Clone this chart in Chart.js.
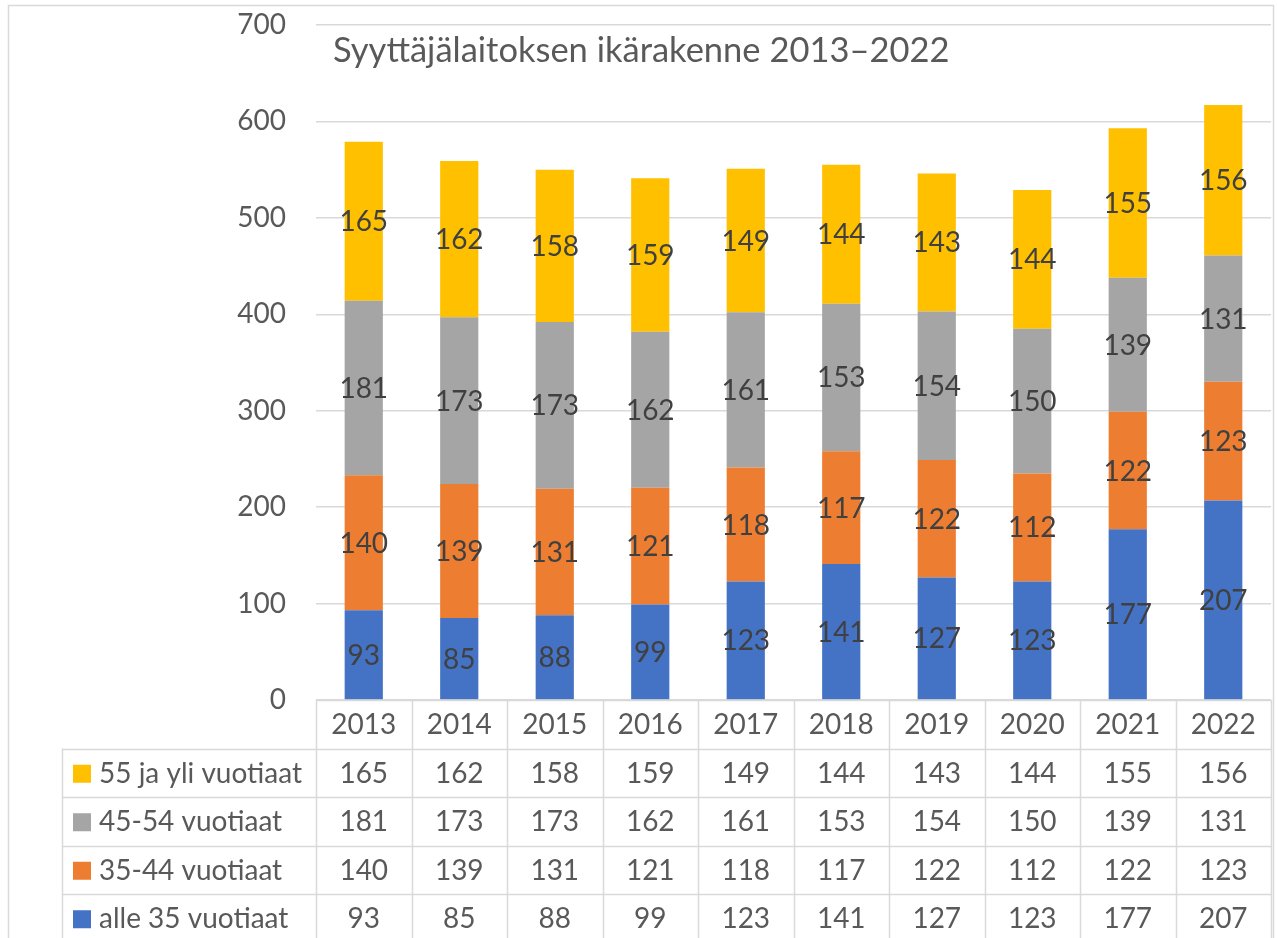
<!DOCTYPE html>
<html>
<head>
<meta charset="utf-8">
<script src="https://cdn.jsdelivr.net/npm/chart.js@4"></script>
<style>
html,body{margin:0;padding:0;background:#fff;}
#wrap{width:1277px;height:938px;position:relative;}
</style>
</head>
<body>
<div id="wrap"><canvas id="c" width="1277" height="938"></canvas></div>
<script>
const years = ['2013','2014','2015','2016','2017','2018','2019','2020','2021','2022'];
const alle35 = [93,85,88,99,123,141,127,123,177,207];
const v3544 = [140,139,131,121,118,117,122,112,122,123];
const v4554 = [181,173,173,162,161,153,154,150,139,131];
const v55 = [165,162,158,159,149,144,143,144,155,156];
const seriesNames = ['alle 35 vuotiaat','35-44 vuotiaat','45-54 vuotiaat','55 ja yli vuotiaat'];
const seriesColors = ['#4472C4','#ED7D31','#A5A5A5','#FFC000'];
const yTicks = [0,100,200,300,400,500,600,700];
const titleText = 'Syyttäjälaitoksen ikärakenne 2013–2022';

const FONT = 'Lato, "Open Sans", sans-serif';
const TXT = '#595959';
const LINE = '#d9d9d9';

const frame = {
  id:'frame',
  beforeDraw(chart){
    const ctx = chart.ctx;
    ctx.save();
    ctx.fillStyle = '#fff';
    ctx.fillRect(0,0,chart.width,chart.height);
    ctx.strokeStyle = LINE;
    ctx.lineWidth = 1.5;
    ctx.strokeRect(8.5,5.5,1265,960);
    ctx.restore();
  }
};

const labelsPlugin = {
  id:'segLabels',
  afterDatasetsDraw(chart){
    const ctx = chart.ctx;
    ctx.save();
    ctx.font = '28px ' + FONT;
    ctx.fillStyle = '#404040';
    ctx.textAlign = 'center';
    ctx.textBaseline = 'middle';
    chart.data.datasets.forEach((ds, di) => {
      const meta = chart.getDatasetMeta(di);
      meta.data.forEach((el, i) => {
        const p = el.getProps(['x','y','base'], true);
        ctx.fillText(String(ds.data[i]), p.x, (p.y + p.base)/2 + 1);
      });
    });
    ctx.restore();
  }
};

const titlePlugin = {
  id:'insideTitle',
  afterDraw(chart){
    const ctx = chart.ctx;
    ctx.save();
    ctx.font = '34.5px ' + FONT;
    ctx.fillStyle = TXT;
    ctx.textAlign = 'left';
    ctx.textBaseline = 'alphabetic';
    ctx.fillText(titleText, chart.chartArea.left + 17, 62);
    ctx.restore();
  }
};

const tablePlugin = {
  id:'dataTable',
  afterDraw(chart){
    const ctx = chart.ctx;
    const a = chart.chartArea;
    const xs = chart.scales.x;
    const n = years.length;
    const colW = (a.right - a.left) / n;
    const top = a.bottom;
    const rowH = 48.5;
    const legLeft = 62;
    const rows = [
      {name: seriesNames[3], color: seriesColors[3], data: v55},
      {name: seriesNames[2], color: seriesColors[2], data: v4554},
      {name: seriesNames[1], color: seriesColors[1], data: v3544},
      {name: seriesNames[0], color: seriesColors[0], data: alle35}
    ];
    ctx.save();
    ctx.strokeStyle = LINE;
    ctx.lineWidth = 1.5;
    ctx.beginPath();
    ctx.moveTo(a.left, top + 0.5); ctx.lineTo(a.right, top + 0.5);
    for (let r = 1; r <= rows.length + 1; r++){
      const y = Math.round(top + r*rowH) + 0.5;
      ctx.moveTo(legLeft, y); ctx.lineTo(a.right, y);
    }
    for (let c = 0; c <= n; c++){
      const x = Math.round(a.left + c*colW) + 0.5;
      ctx.moveTo(x, top); ctx.lineTo(x, chart.height);
    }
    ctx.moveTo(legLeft + 0.5, top + rowH); ctx.lineTo(legLeft + 0.5, chart.height);
    ctx.stroke();

    ctx.font = '28px ' + FONT;
    ctx.fillStyle = TXT;
    ctx.textBaseline = 'middle';
    ctx.textAlign = 'center';
    years.forEach((yl, i) => {
      ctx.fillText(yl, xs.getPixelForValue(i), top + rowH/2 + 1);
    });
    rows.forEach((row, r) => {
      const cy = top + (r+1)*rowH + rowH/2 + 1;
      ctx.fillStyle = row.color;
      ctx.fillRect(73, cy - 9, 18, 18);
      ctx.fillStyle = TXT;
      ctx.textAlign = 'left';
      ctx.fillText(row.name, 99, cy);
      ctx.textAlign = 'center';
      row.data.forEach((v, i) => {
        ctx.fillText(String(v), xs.getPixelForValue(i), cy);
      });
    });
    ctx.restore();
  }
};

const seriesData = [alle35, v3544, v4554, v55];
new Chart(document.getElementById('c'), {
  type:'bar',
  data:{
    labels: years,
    datasets: seriesData.map((d, i) => ({
      label: seriesNames[i],
      data: d,
      backgroundColor: seriesColors[i],
      borderWidth: 0,
      categoryPercentage: 1,
      barPercentage: 0.4
    }))
  },
  options:{
    responsive:false,
    animation:false,
    layout:{padding:{left:0, right:6, top:25, bottom:238}},
    plugins:{legend:{display:false}, title:{display:false}, tooltip:{enabled:false}},
    scales:{
      x:{stacked:true, display:false},
      y:{
        stacked:true, min:0, max:700,
        afterFit(scale){ scale.width = 316; scale.paddingTop = 0; scale.paddingBottom = 0; },
        afterBuildTicks(scale){ scale.ticks = yTicks.map(v => ({value:v})); },
        ticks:{font:{family:FONT, size:28}, color:TXT, padding:30},
        grid:{color:LINE, lineWidth:1.5, drawTicks:false},
        border:{display:false}
      }
    }
  },
  plugins:[frame, labelsPlugin, titlePlugin, tablePlugin]
});
</script>
</body>
</html>
